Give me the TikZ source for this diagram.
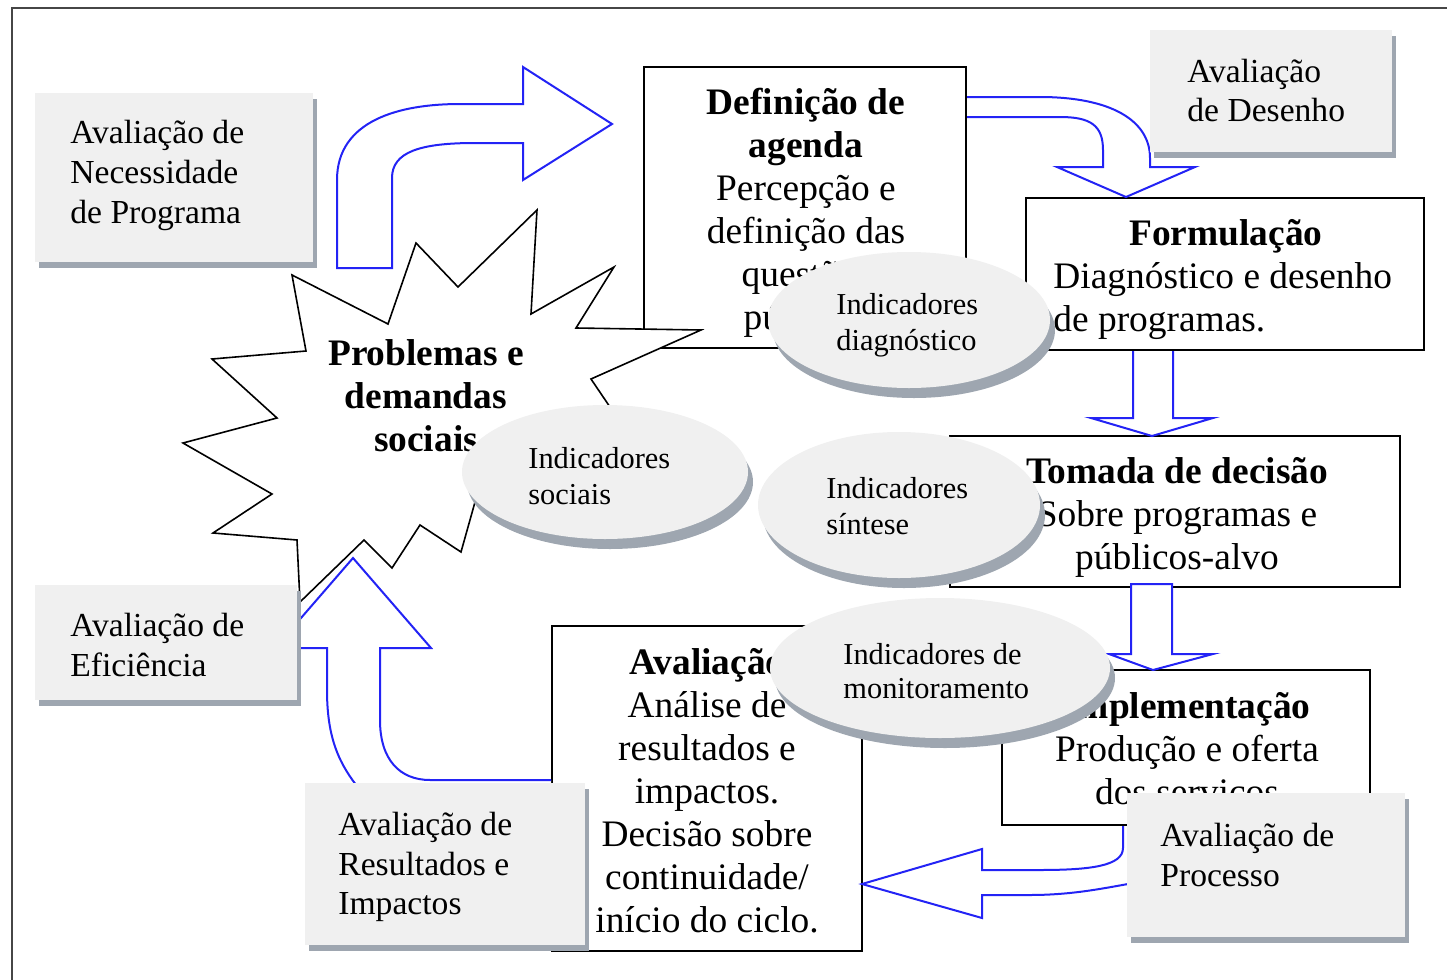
\documentclass[tikz,border=0pt]{standalone}
\usepackage{fontspec}
\setmainfont{Liberation Serif}
\usetikzlibrary{shapes.geometric,shadows}
\definecolor{grfill}{RGB}{240,240,240}
\definecolor{shcol}{RGB}{158,166,176}
\definecolor{arrblue}{RGB}{35,35,245}
\definecolor{framecol}{RGB}{70,70,70}
\newcommand\bxf{\fontsize{18.7pt}{21.5pt}\selectfont}
\newcommand\grf{\fontsize{16.8pt}{19.8pt}\selectfont}
\newcommand\elf{\fontsize{15.2pt}{18pt}\selectfont}
\begin{document}
\begin{tikzpicture}[x=0.5pt,y=-0.5pt,
  wbox/.style={rectangle, draw=black, line width=1pt, fill=white, inner sep=0pt},
  btext/.style={font=\bxf, align=center, inner sep=0pt},
  gbox/.style={rectangle, fill=grfill, draw=none, inner sep=0pt,
     drop shadow={shadow xshift=2pt, shadow yshift=-3pt, fill=shcol, opacity=1}},
  gtext/.style={font=\grf, align=left, inner sep=0pt, anchor=west},
  ellbox/.style={ellipse, fill=grfill, draw=none, inner sep=0pt,
     drop shadow={shadow xshift=2.5pt, shadow yshift=-5pt, fill=shcol, opacity=1}},
  etext/.style={font=\elf, align=left, inner sep=0pt, anchor=west},
  barrow/.style={draw=arrblue, line width=1pt, fill=white, line join=miter},
  starsh/.style={draw=black, line width=0.8pt, fill=white, line join=miter}
]
\useasboundingbox (0,0) rectangle (1447,980);
\draw[framecol, line width=1pt] (12,980) -- (12,8) -- (1447,8);

% white process boxes
\node[wbox, minimum width=161pt, minimum height=140.5pt] (def) at (805,207.5) {};
\node[wbox, minimum width=199pt, minimum height=76pt] (form) at (1225,274) {};
\node[wbox, minimum width=225pt, minimum height=75.5pt] (tom) at (1175,511.5) {};
\node[wbox, minimum width=184pt, minimum height=77.5pt] (impl) at (1186,747.5) {};
\node[wbox, minimum width=155pt, minimum height=162.5pt] (aval) at (707,788.5) {};

\node[btext] (defT) at (806,213) {\textbf{Definição de}\\\textbf{agenda}\\Percepção e\\definição das\\questões\\públicas};
\node[btext] (formT) at (1226,236) {\textbf{Formulação}};
\node[btext, align=left, anchor=west] (formB) at (1053,301) {Diagnóstico e desenho\\de programas.};
\node[btext] (tomT) at (1177,517) {\textbf{Tomada de decisão}\\Sobre programas e\\públicos-alvo};
\node[btext] (implT) at (1187,752) {\textbf{Implementação}\\Produção e oferta\\dos serviços};
\node[btext] (avalT) at (707,791) {\textbf{Avaliação}\\Análise de\\resultados e\\impactos.\\Decisão sobre\\continuidade/\\início do ciclo.};

% blue block arrows
\path[barrow] (337,268) -- (337,180) .. controls (337,120) and (400,104) .. (460,104)
  -- (523,104) -- (523,67) -- (612,124) -- (523,180) -- (523,143) -- (475,143)
  .. controls (420,143) and (392,152) .. (392,178) -- (392,268) -- cycle;
\path[barrow] (967,97) -- (1040,97) .. controls (1110,97) and (1150,120) .. (1150,158)
  -- (1150,167) -- (1195,167) -- (1126,197) -- (1057,167) -- (1103,167) -- (1103,150)
  .. controls (1103,125) and (1090,117) .. (1060,117) -- (967,117);
\path[barrow] (1133,351) -- (1133,418) -- (1091,418) -- (1152,436) -- (1213,418) -- (1173,418) -- (1173,351);
\path[barrow] (1131,584) -- (1131,654) -- (1109,654) -- (1153,670) -- (1213,654) -- (1172,654) -- (1172,584) -- cycle;
\path[barrow] (1123,826) -- (1123,848) .. controls (1123,866) and (1090,870) .. (1040,870)
  -- (982,870) -- (982,849) -- (862,884) -- (982,918) -- (982,895) -- (1030,895)
  .. controls (1070,895) and (1100,889) .. (1128,884);
\path[barrow] (551,780) -- (430,780) .. controls (400,780) and (380,760) .. (380,720)
  -- (380,648) -- (431,648) -- (353,558) -- (275,648) -- (327,648) -- (327,690)
  .. controls (327,740) and (340,765) .. (360,790) .. controls (390,825) and (450,835) .. (551,835);

% star
\path[starsh] (537,210) -- (531,314) -- (614,267) -- (576,328) -- (701,330) -- (591,379)
  -- (612,410) -- (660,455) -- (484,470) -- (461,552) -- (420,525) -- (392,568)
  -- (364,540) -- (300,602) -- (297,540) -- (213,533) -- (272,494) -- (183,443)
  -- (277,418) -- (212,359) -- (306,351) -- (292,275) -- (388,324) -- (416,243)
  -- (458,287) -- cycle;
\node[btext] (starT) at (426,396) {\textbf{Problemas e}\\\textbf{demandas}\\\textbf{sociais}};

% indicator ellipses
\node[ellbox, minimum width=141pt, minimum height=68pt] (diag) at (909,320) {};
\node[etext] (diagT) at (836,325) {Indicadores\\diagnóstico};
\node[ellbox, minimum width=143pt, minimum height=67pt] (soc) at (605,472) {};
\node[etext] (socT) at (528,476) {Indicadores\\sociais};
\node[ellbox, minimum width=141pt, minimum height=73pt] (sin) at (899,505) {};
\node[etext] (sinT) at (826,506) {Indicadores\\síntese};
\node[ellbox, minimum width=170pt, minimum height=70pt] (mon) at (940,668) {};
\node[etext, font=\fontsize{15.2pt}{17pt}\selectfont] (monT) at (843,671) {Indicadores de\\monitoramento};

% grey evaluation boxes
\node[gbox, minimum width=139pt, minimum height=84.5pt] (nec) at (174,177.5) {};
\node[gtext] (necT) at (70,175.5) {Avaliação de\\Necessidade\\de Programa};
\node[gbox, minimum width=121pt, minimum height=61pt] (des) at (1271,91) {};
\node[gtext] (desT) at (1187,90.5) {Avaliação\\de Desenho};
\node[gbox, minimum width=131pt, minimum height=57.5pt] (efi) at (166,642.5) {};
\node[gtext] (efiT) at (70,645) {Avaliação de\\Eficiência};
\node[gbox, minimum width=140pt, minimum height=81pt] (res) at (445,864) {};
\node[gtext] (resT) at (338,867) {Avaliação de\\Resultados e\\Impactos};
\node[gbox, minimum width=139pt, minimum height=72pt] (proc) at (1266,865) {};
\node[gtext] (procT) at (1160,855) {Avaliação de\\Processo};
\end{tikzpicture}
\end{document}
